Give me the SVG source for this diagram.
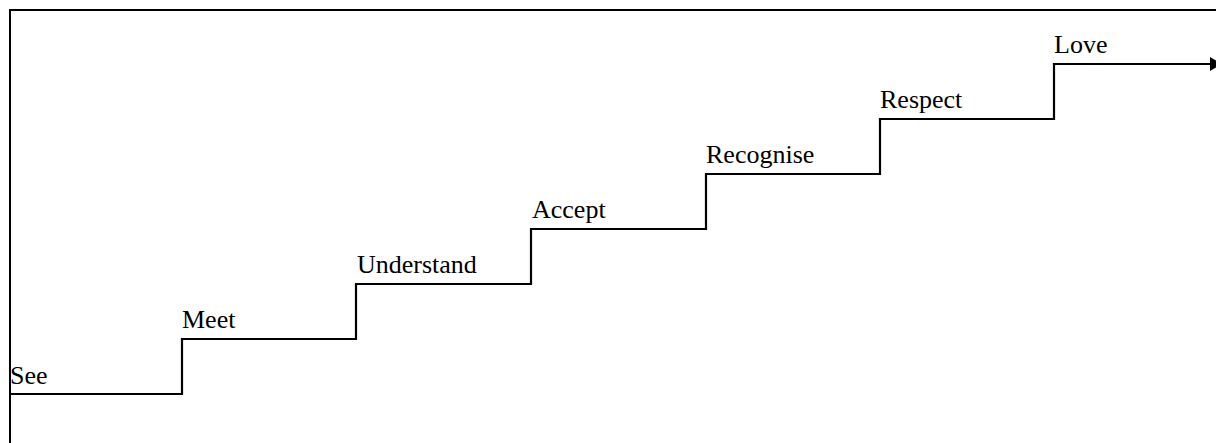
<svg xmlns="http://www.w3.org/2000/svg" width="1216" height="443" viewBox="0 0 1216 443">
  <style>
    .frame { fill: none; stroke: #000; stroke-width: 2; }
    .stair { fill: none; stroke: #000; stroke-width: 2.2; stroke-linejoin: miter; }
    .lbl { font-family: "Liberation Serif", "Times New Roman", serif; font-size: 26px; fill: #000; }
  </style>
  <rect x="0" y="0" width="1216" height="443" fill="#fff"/>
  <g id="frame">
    <path class="frame" d="M10,443 V10 H1216"/>
  </g>
  <g id="connectors">
    <path class="stair" d="M10,394 H182 V339 H356 V284 H531 V229 H706 V174 H880 V119 H1054 V64 H1212"/>
    <polygon points="1210,57 1222,64 1210,71" fill="#000"/>
  </g>
  <g id="node-see"><text class="lbl" x="10" y="384">See</text></g>
  <g id="node-meet"><text class="lbl" x="182" y="328">Meet</text></g>
  <g id="node-understand"><text class="lbl" x="357" y="273">Understand</text></g>
  <g id="node-accept"><text class="lbl" x="532" y="218">Accept</text></g>
  <g id="node-recognise"><text class="lbl" x="706" y="163">Recognise</text></g>
  <g id="node-respect"><text class="lbl" x="880" y="108">Respect</text></g>
  <g id="node-love"><text class="lbl" x="1054" y="53">Love</text></g>
</svg>
